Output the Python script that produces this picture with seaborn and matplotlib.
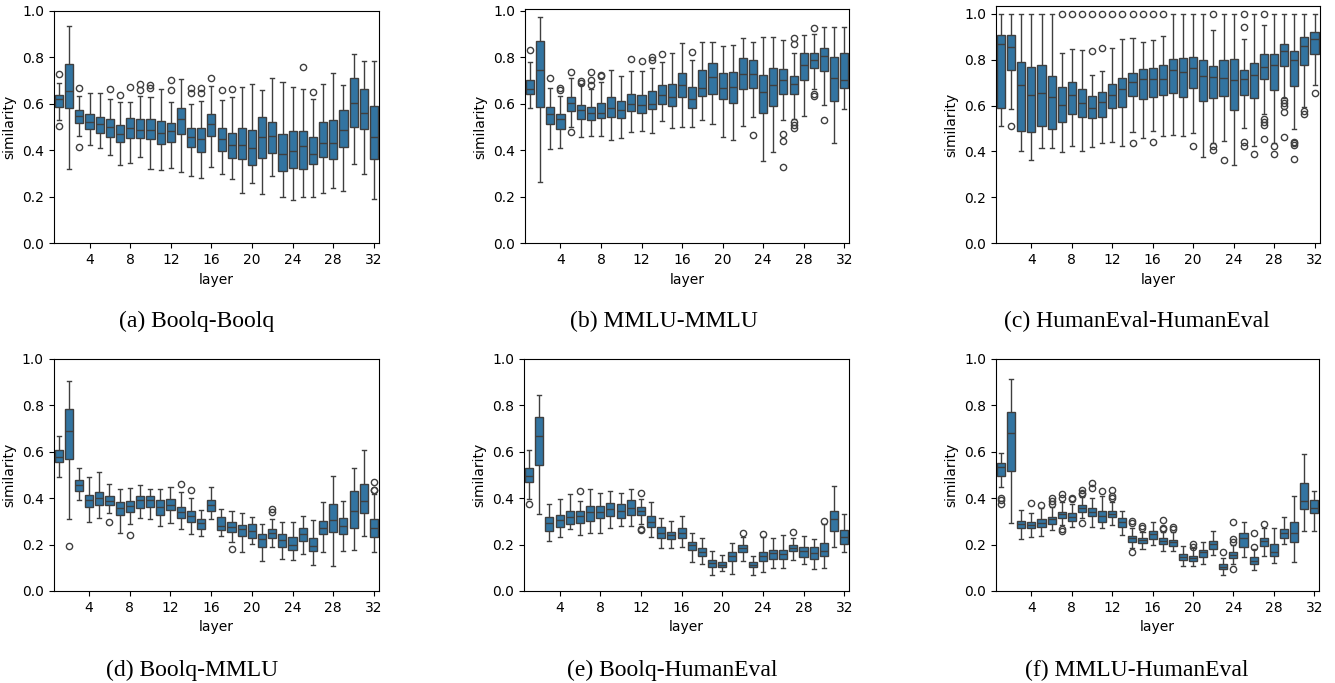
import pandas as pd
import matplotlib
matplotlib.use("Agg")
import matplotlib.pyplot as plt
import seaborn as sns

layers = list(range(1, 33))

# (a) Boolq-Boolq: lower whisker, q1, median, q3, upper whisker per layer
bb_lo = [.530, .321, .461, .421, .410, .380, .335, .344, .370, .319, .314, .322, .308, .291, .279, .327,
         .299, .277, .218, .261, .212, .291, .201, .185, .198, .201, .215, .236, .225, .340, .299, .191]
bb_q1 = [.587, .583, .516, .490, .473, .456, .434, .451, .451, .447, .425, .437, .470, .413, .394, .461,
         .398, .365, .364, .335, .365, .390, .312, .322, .318, .342, .370, .361, .415, .499, .491, .361]
bb_med = [.620, .655, .549, .523, .511, .499, .470, .496, .487, .487, .473, .481, .536, .457, .448, .513,
          .447, .421, .423, .408, .456, .460, .385, .395, .418, .383, .433, .430, .489, .605, .559, .458]
bb_q3 = [.638, .769, .573, .556, .544, .533, .507, .537, .533, .533, .527, .516, .580, .497, .494, .554,
         .494, .473, .494, .487, .544, .523, .470, .484, .483, .457, .520, .530, .573, .709, .665, .590]
bb_hi = [.688, .934, .633, .645, .648, .619, .606, .607, .633, .630, .663, .609, .706, .597, .613, .676,
         .616, .630, .673, .683, .659, .712, .692, .673, .662, .619, .683, .731, .682, .812, .784, .784]
bb_out = {1: [.726, .504], 3: [.669, .415], 6: [.663], 7: [.638], 8: [.672], 9: [.683, .659],
          10: [.680, .667], 12: [.702, .658], 14: [.666, .645], 15: [.666, .645], 16: [.712],
          17: [.659], 18: [.662], 25: [.756], 26: [.649]}

# (b) MMLU-MMLU
mm_lo = [.580, .262, .405, .411, .501, .457, .461, .461, .446, .451, .480, .481, .476, .524, .497, .500,
         .500, .530, .513, .455, .444, .506, .544, .352, .394, .530, .533, .547, .662, .595, .433, .577]
mm_q1 = [.640, .586, .514, .491, .569, .533, .529, .539, .544, .539, .570, .559, .577, .597, .592, .627,
         .583, .633, .642, .619, .602, .662, .669, .560, .592, .640, .642, .702, .752, .742, .612, .669]
mm_med = [.665, .744, .554, .536, .602, .573, .560, .559, .580, .573, .600, .593, .600, .636, .630, .681,
          .619, .669, .713, .669, .673, .728, .728, .649, .681, .700, .683, .766, .788, .807, .712, .702]
mm_q3 = [.702, .870, .587, .556, .627, .593, .586, .602, .630, .613, .642, .636, .656, .679, .685, .731,
         .670, .744, .774, .731, .738, .795, .788, .725, .755, .749, .721, .817, .819, .841, .799, .819]
mm_hi = [.781, .974, .666, .635, .709, .681, .662, .695, .745, .721, .739, .739, .755, .781, .819, .862,
         .788, .867, .864, .848, .852, .881, .867, .885, .885, .874, .817, .895, .898, .931, .931, .931]
mm_out = {1: [.829], 3: [.712], 4: [.666, .659], 5: [.735, .478], 6: [.698, .688],
          7: [.738, .702, .681], 8: [.725, .719], 11: [.791], 12: [.784], 13: [.802, .788],
          14: [.814], 17: [.824], 23: [.466], 26: [.468, .441, .327],
          27: [.883, .857, .520, .509, .494], 29: [.925, .640, .632], 30: [.530]}

# (c) HumanEval-HumanEval
hh_lo = [.512, .584, .403, .363, .414, .417, .397, .424, .404, .420, .435, .443, .426, .485, .459, .490,
         .468, .472, .467, .480, .375, .436, .445, .339, .503, .426, .565, .438, .634, .497, .592, .688]
hh_q1 = [.589, .753, .491, .484, .512, .496, .528, .565, .548, .545, .552, .589, .594, .640, .629, .638,
         .644, .656, .637, .677, .622, .635, .640, .580, .648, .634, .717, .669, .773, .686, .775, .823]
hh_med = [.869, .853, .689, .644, .654, .637, .602, .645, .609, .589, .615, .644, .674, .701, .717, .714,
          .715, .754, .746, .763, .728, .724, .720, .711, .715, .735, .766, .775, .836, .799, .858, .890]
hh_q3 = [.907, .907, .789, .766, .775, .727, .679, .701, .674, .641, .661, .696, .718, .744, .759, .763,
         .778, .801, .807, .811, .797, .772, .799, .802, .754, .785, .826, .826, .868, .839, .898, .922]
hh_hi = [1.0, 1.0, 1.0, 1.0, 1.0, 1.0, .828, .846, .843, .731, .751, .852, .890, .894, .876, .887,
         .904, 1.0, 1.0, 1.0, 1.0, .930, 1.0, 1.0, .892, 1.0, .949, 1.0, 1.0, 1.0, 1.0, 1.0]
hh_out = {2: [.509], 7: [1.0], 8: [1.0], 9: [1.0], 10: [1.0, .836], 11: [1.0, .850], 12: [1.0],
          13: [1.0], 14: [1.0, .439], 15: [1.0], 16: [1.0, .443], 17: [1.0], 20: [.422],
          22: [1.0, .425, .407], 23: [.365], 25: [1.0, .942, .443, .426], 26: [.387],
          27: [1.0, .541, .530, .516, .456], 28: [.422, .388], 29: [.625, .610, .596, .574, .465],
          30: [.443, .436, .429, .368], 31: [.577, .562], 32: [.654]}

# (d) Boolq-MMLU
bm_lo = [.490, .309, .392, .299, .316, .335, .251, .289, .315, .310, .282, .292, .266, .247, .237, .310,
         .237, .213, .170, .203, .128, .188, .136, .134, .158, .112, .168, .109, .172, .177, .239, .170]
bm_q1 = [.557, .569, .432, .362, .369, .369, .328, .339, .359, .362, .328, .349, .313, .297, .269, .345,
         .261, .253, .237, .228, .190, .227, .188, .178, .216, .171, .244, .253, .247, .272, .338, .233]
bm_med = [.579, .688, .457, .391, .399, .389, .356, .366, .391, .391, .361, .372, .342, .322, .292, .369,
          .282, .274, .266, .260, .223, .249, .221, .198, .246, .195, .272, .306, .280, .345, .386, .273]
bm_q3 = [.606, .783, .480, .414, .428, .408, .382, .388, .411, .411, .392, .395, .362, .346, .310, .391,
         .319, .296, .284, .287, .244, .266, .244, .231, .273, .227, .302, .376, .315, .432, .463, .310]
bm_hi = [.670, .907, .532, .490, .513, .462, .440, .445, .458, .440, .440, .450, .427, .401, .349, .450,
         .352, .346, .338, .318, .287, .312, .296, .296, .322, .305, .382, .497, .386, .529, .606, .418]
bm_out = {2: [.193], 6: [.299], 8: [.240], 13: [.460], 14: [.434], 18: [.181], 22: [.352, .340],
          32: [.471, .437, .434]}

# (e) Boolq-HumanEval
bh_lo = [.397, .330, .217, .233, .269, .240, .249, .249, .270, .280, .280, .290, .233, .184, .184, .191,
         .124, .118, .068, .085, .073, .131, .070, .080, .098, .098, .132, .118, .095, .101, .190, .167]
bh_q1 = [.471, .543, .259, .276, .290, .293, .303, .316, .325, .316, .329, .329, .277, .227, .223, .227,
         .175, .152, .103, .102, .129, .167, .102, .128, .139, .136, .172, .145, .136, .152, .259, .203]
bh_med = [.497, .668, .295, .306, .319, .322, .341, .342, .355, .346, .358, .346, .299, .251, .240, .250,
          .197, .170, .119, .112, .149, .187, .114, .152, .164, .161, .187, .171, .162, .174, .310, .231]
bh_q3 = [.529, .751, .318, .326, .345, .345, .368, .368, .378, .374, .394, .364, .325, .274, .256, .270,
         .211, .184, .132, .124, .170, .198, .125, .170, .178, .178, .200, .190, .188, .208, .343, .263]
bh_hi = [.606, .845, .374, .398, .418, .388, .441, .421, .432, .421, .440, .397, .382, .313, .302, .325,
         .251, .227, .174, .155, .208, .231, .149, .231, .230, .240, .230, .239, .223, .288, .454, .330]
bh_out = {1: [.374], 6: [.430], 12: [.424, .269, .264], 22: [.251], 24: [.247], 27: [.253], 30: [.302]}

# (f) MMLU-HumanEval
mh_lo = [.447, .292, .224, .231, .237, .261, .284, .276, .315, .277, .270, .284, .241, .184, .181, .198,
         .174, .172, .109, .109, .118, .155, .069, .116, .148, .089, .152, .122, .201, .124, .259, .259]
mh_q1 = [.497, .517, .270, .270, .276, .290, .313, .302, .342, .323, .296, .319, .277, .210, .207, .223,
         .201, .195, .132, .129, .145, .181, .095, .141, .191, .118, .195, .151, .227, .210, .353, .335]
mh_med = [.536, .680, .287, .284, .295, .310, .330, .320, .356, .342, .325, .333, .296, .230, .220, .247,
          .217, .210, .145, .141, .167, .201, .105, .155, .230, .131, .217, .167, .249, .249, .388, .359]
mh_q3 = [.550, .770, .302, .299, .310, .320, .342, .335, .371, .356, .346, .345, .313, .236, .230, .259,
         .227, .220, .158, .152, .177, .216, .115, .167, .251, .145, .230, .201, .266, .299, .466, .391]
mh_hi = [.595, .912, .348, .338, .356, .362, .385, .374, .404, .403, .409, .382, .346, .272, .256, .296,
         .256, .256, .195, .184, .213, .259, .143, .200, .296, .182, .270, .270, .318, .409, .591, .432]
mh_out = {1: [.402, .392, .374], 4: [.381], 5: [.371], 6: [.399, .388, .374],
          7: [.417, .399, .266, .260], 8: [.399, .395], 9: [.435, .421, .418, .295], 10: [.467, .445],
          11: [.432], 12: [.434, .411, .402], 14: [.302, .292, .166], 15: [.280, .273],
          17: [.306, .273, .268], 18: [.277, .267], 20: [.201, .191], 23: [.167],
          24: [.299, .223, .213, .095], 26: [.251, .191], 27: [.290]}

captions = ["(a) Boolq-Boolq", "(b) MMLU-MMLU", "(c) HumanEval-HumanEval",
            "(d) Boolq-MMLU", "(e) Boolq-HumanEval", "(f) MMLU-HumanEval"]


def long_table(lo, q1, med, q3, hi, out, reps=40):
    # sample per layer whose quartiles / whisker ends equal the read-off values
    rows = []
    for i, layer in enumerate(layers):
        vals = [lo[i], hi[i]] + [q1[i]] * reps + [med[i]] * reps + [q3[i]] * reps + out.get(layer, [])
        rows += [(layer, v) for v in vals]
    return pd.DataFrame(rows, columns=["layer", "similarity"])


panels = [
    long_table(bb_lo, bb_q1, bb_med, bb_q3, bb_hi, bb_out),
    long_table(mm_lo, mm_q1, mm_med, mm_q3, mm_hi, mm_out),
    long_table(hh_lo, hh_q1, hh_med, hh_q3, hh_hi, hh_out),
    long_table(bm_lo, bm_q1, bm_med, bm_q3, bm_hi, bm_out),
    long_table(bh_lo, bh_q1, bh_med, bh_q3, bh_hi, bh_out),
    long_table(mh_lo, mh_q1, mh_med, mh_q3, mh_hi, mh_out),
]

W, H = 1335, 683
fig = plt.figure(figsize=(W / 100, H / 100), dpi=100)

# axes boxes in pixels: left, top, width, height ; plus y upper limit
boxes = [(54, 10.7, 325, 232.6, 1.0), (525, 9.5, 324.3, 233.8, 1.005), (996, 5.7, 323.6, 237.6, 1.035),
         (53.5, 359, 325.5, 232, 1.0), (524, 359, 325.3, 232, 1.0), (996, 359, 323.3, 232, 1.0)]
cap_pos = [(196.7, 321.7), (664, 321.7), (1136.6, 321.7),
           (192.4, 670), (671.8, 670), (1136.6, 670)]

for df, (l, t, w, h, ytop), cap, (cx, cy) in zip(panels, boxes, captions, cap_pos):
    ax = fig.add_axes([l / W, 1 - (t + h) / H, w / W, h / H])
    sns.boxplot(data=df, x="layer", y="similarity", ax=ax, color="#1f77b4",
                linewidth=1, fliersize=4.5, width=0.8)
    ax.set_ylim(0, ytop)
    ax.set_xlim(-0.5, 31.5)
    ax.set_xticks(range(3, 32, 4))
    ax.set_xticklabels([str(x) for x in range(4, 33, 4)])
    ax.set_yticks([0, 0.2, 0.4, 0.6, 0.8, 1.0])
    ax.tick_params(labelsize=10)
    ax.set_xlabel("layer", fontsize=10)
    ax.set_ylabel("similarity", fontsize=10)
    fig.text(cx / W, 1 - cy / H, cap, ha="center", va="center",
             family="Liberation Serif", fontsize=17)

plt.savefig("out.png", dpi=100)
